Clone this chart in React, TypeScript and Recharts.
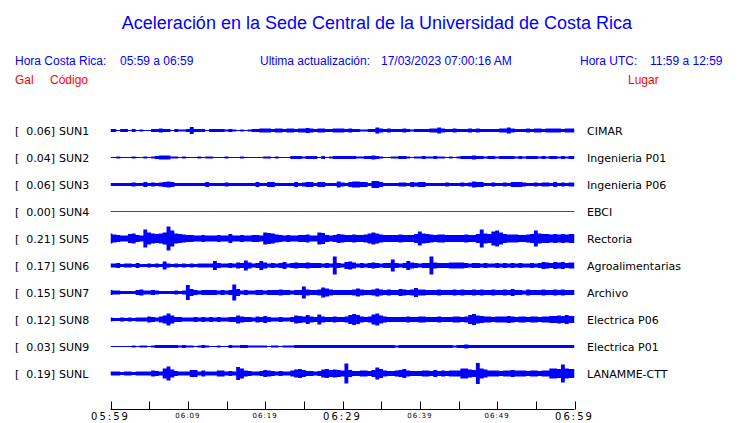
import React from 'react';
import { ComposedChart, Area, XAxis, YAxis } from 'recharts';

// ---- Station metadata ----
const stationCodes = ['SUN1', 'SUN2', 'SUN3', 'SUN4', 'SUN5', 'SUN6', 'SUN7', 'SUN8', 'SUN9', 'SUNL'];
const peakGal = ['0.06', '0.04', '0.06', '0.00', '0.21', '0.17', '0.15', '0.12', '0.03', '0.19'];
const places = ['CIMAR', 'Ingenieria P01', 'Ingenieria P06', 'EBCI', 'Rectoria', 'Agroalimentarias', 'Archivo', 'Electrica P06', 'Electrica P01', 'LANAMME-CTT'];

// ---- Trace envelopes (half amplitude, display units), one value per 30 s from 05:59 ----
const sun1 = [
  1.5, 1.5, 0.5, 1.5, 1.5, 0.5, 1.5, 0.5, 1, 0.5,
  0.5, 1.5, 1.5, 2, 1.5, 1.5, 0.5, 1.5, 1, 1,
  1.5, 3.5, 1.5, 1.5, 1.5, 0.5, 1.5, 1.5, 1.5, 1.5,
  1, 1.5, 1, 0.5, 1, 0.5, 1, 1.5, 1.5, 2,
  2, 2, 1.5, 2, 2, 1.5, 2, 2, 1.5, 2,
  2, 2.5, 2, 1.5, 2, 2, 1.5, 1.5, 2, 2,
  2, 1.5, 2, 1.5, 1.5, 1, 1, 1.5, 1.5, 3,
  2, 1.5, 2, 1.5, 1.5, 1.5, 2, 1.5, 1, 1.5,
  1.5, 1.5, 1.5, 2, 2, 3, 2, 1.5, 1.5, 2,
  1.5, 1.5, 1.5, 2, 1.5, 2, 1.5, 1.5, 1.5, 1.5,
  1.5, 2, 2, 3, 2, 1.5, 1.5, 1.5, 2, 1.5,
  2, 2, 1.5, 2, 2, 2, 2, 1.5, 2, 2,
];
const sun2 = [
  0.5, 0.5, 1, 0.5, 0.5, 0.5, 1, 0.5, 0.5, 1,
  0.5, 1, 1.5, 2, 2, 2, 1, 1, 0.5, 1,
  0.5, 0.5, 0.5, 1, 0.5, 1, 1, 0.5, 0.5, 0.5,
  1, 0.5, 0.5, 0.5, 1, 0.5, 0.5, 0.5, 0.5, 0.5,
  1, 1, 0.5, 1, 0.5, 0.5, 0.5, 1.5, 1.5, 1.5,
  1, 1.5, 1.5, 1.5, 0.5, 1.5, 0.5, 1, 1.5, 1.5,
  1.5, 1.5, 1.5, 1.5, 1, 1, 1.5, 1.5, 2, 1.5,
  1, 0.5, 0.5, 1, 1, 1.5, 1.5, 1, 0.5, 1,
  1, 1.5, 1, 1, 1.5, 1, 1, 0.5, 1, 0.5,
  1, 1.5, 1.5, 1.5, 2, 1.5, 1.5, 1, 1.5, 1.5,
  1, 1.5, 1.5, 1.5, 1.5, 1, 1.5, 1, 1.5, 1.5,
  1.5, 1, 1.5, 1, 1.5, 1.5, 1, 1.5, 1, 1.5,
];
const sun3 = [
  1.5, 1.5, 1.5, 1.5, 1.5, 1.5, 2, 1.5, 1.5, 2.5,
  1.5, 2, 1.5, 2, 2.5, 3, 2.5, 1.5, 1.5, 1.5,
  1.5, 1.5, 1.5, 1.5, 1.5, 2.5, 1.5, 1.5, 1.5, 1.5,
  2, 1.5, 1.5, 1.5, 1.5, 1.5, 1.5, 1.5, 2.5, 1.5,
  1.5, 2.5, 2.5, 1.5, 1.5, 1.5, 1.5, 1.5, 2.5, 1.5,
  2, 2.5, 2.5, 1.5, 2.5, 2.5, 1.5, 1.5, 1.5, 3,
  2, 1.5, 2.5, 3, 3, 2.5, 2.5, 1.5, 3.5, 3.5,
  2.5, 1.5, 1.5, 1.5, 1.5, 2, 2, 1.5, 2.5, 2,
  2.5, 2.5, 1.5, 1.5, 1.5, 1.5, 1.5, 2, 1.5, 1.5,
  1.5, 2, 1.5, 2, 3, 2.5, 2.5, 1.5, 1.5, 2,
  1.5, 1.5, 2, 1.5, 2.5, 2.5, 2.5, 2, 1.5, 1.5,
  2, 1.5, 2, 2, 1.5, 2.5, 1.5, 2, 1.5, 2,
];
const sun4 = [
  0, 0, 0, 0, 0, 0, 0, 0, 0, 0,
  0, 0, 0, 0, 0, 0, 0, 0, 0, 0,
  0, 0, 0, 0, 0, 0, 0, 0, 0, 0,
  0, 0, 0, 0, 0, 0, 0, 0, 0, 0,
  0, 0, 0, 0, 0, 0, 0, 0, 0, 0,
  0, 0, 0, 0, 0, 0, 0, 0, 0, 0,
  0, 0, 0, 0, 0, 0, 0, 0, 0, 0,
  0, 0, 0, 0, 0, 0, 0, 0, 0, 0,
  0, 0, 0, 0, 0, 0, 0, 0, 0, 0,
  0, 0, 0, 0, 0, 0, 0, 0, 0, 0,
  0, 0, 0, 0, 0, 0, 0, 0, 0, 0,
  0, 0, 0, 0, 0, 0, 0, 0, 0, 0,
];
const sun5 = [
  5, 4, 3.5, 3, 3, 4.5, 5, 3.5, 3, 9,
  6, 5, 4.5, 5, 6, 12, 8, 5, 4.5, 4,
  3.5, 3.5, 3, 3, 3.5, 3, 3, 3, 3.5, 3,
  3, 4.5, 3, 3, 3.5, 3, 3, 3.5, 3.5, 3,
  6, 5.5, 5, 4, 3.5, 3, 3.5, 3, 3, 3.5,
  3.5, 4, 3, 3, 6, 5.5, 3.5, 3, 3.5, 4.5,
  4, 3.5, 3.5, 4, 3.5, 3.5, 4, 5, 6, 5,
  4, 3.5, 3.5, 3.5, 3.5, 4, 3.5, 3.5, 3.5, 4.5,
  7, 5, 4.5, 4, 3.5, 4, 4, 3.5, 3.5, 3.5,
  3.5, 3.5, 4, 3.5, 3.5, 4.5, 9, 5, 4.5, 7,
  8, 6, 4.5, 4, 4, 4, 3.5, 3.5, 4, 4.5,
  8, 5, 4.5, 4.5, 4, 4.5, 4, 4.5, 4, 4.5,
];
const sun6 = [
  2, 2, 2.5, 1.5, 2, 2, 1.5, 2.5, 1.5, 1.5,
  2, 1.5, 2, 1.5, 4, 2, 1.5, 2, 1.5, 2,
  1.5, 2, 1.5, 2, 2, 2, 2, 4.5, 2.5, 2,
  2, 2.5, 2, 3, 2.5, 5, 3, 2, 2.5, 4.5,
  3, 2, 2.5, 2, 2.5, 3.5, 2, 2.5, 3, 2.5,
  2.5, 3, 2.5, 2.5, 2.5, 2, 2.5, 2, 9, 2.5,
  2, 3.5, 4, 3, 2, 2.5, 2, 2.5, 3, 2.5,
  2, 2.5, 2.5, 6, 2.5, 2, 2.5, 4.5, 3, 2.5,
  2, 2.5, 2.5, 9, 3, 2.5, 2.5, 2.5, 3, 3,
  3, 3, 2.5, 2, 2.5, 2.5, 2, 2.5, 2, 2,
  2.5, 2, 2.5, 2, 2.5, 2, 2.5, 2, 2, 2.5,
  2, 2.5, 3.5, 3, 2.5, 3.5, 3, 3.5, 2.5, 3,
];
const sun7 = [
  2.5, 2, 2, 1.5, 1.5, 1.5, 1.5, 2.5, 3, 2,
  2, 2.5, 2, 1.5, 1.5, 1.5, 1.5, 2, 1.5, 2,
  7.5, 3.5, 2.5, 2, 2.5, 2.5, 2.5, 2.5, 2, 2.5,
  2, 2.5, 8, 3.5, 2, 2.5, 2, 2, 2.5, 2.5,
  2, 2.5, 2.5, 2.5, 3, 2.5, 2.5, 2, 2.5, 2.5,
  6, 3, 2.5, 2.5, 3, 5, 4, 3, 2.5, 2.5,
  2.5, 2.5, 2.5, 3, 4, 3, 2.5, 2.5, 3, 4,
  3, 2.5, 3, 2.5, 2.5, 3.5, 3, 2.5, 3, 4.5,
  3, 3, 2.5, 2.5, 2.5, 3, 2.5, 2.5, 2.5, 3,
  2.5, 3, 2.5, 2.5, 3, 2.5, 3, 2.5, 2.5, 3,
  2.5, 2.5, 3, 2.5, 3.5, 2.5, 2.5, 2, 3, 2.5,
  2.5, 2.5, 3, 2.5, 2.5, 3, 2.5, 3, 2.5, 2.5,
];
const sun8 = [
  2, 1.5, 1.5, 2, 1.5, 2, 1.5, 2, 2, 2,
  3, 2.5, 2, 3, 4, 6, 4, 2.5, 2.5, 2,
  2, 2, 2.5, 2, 2.5, 2, 2.5, 2, 2.5, 2,
  2, 2.5, 2.5, 4, 3, 2.5, 2.5, 2, 3, 2.5,
  3.5, 2.5, 2, 2, 2.5, 2, 2, 2.5, 4, 3.5,
  3, 4.5, 3, 2.5, 5, 3, 2.5, 2.5, 3, 2.5,
  2.5, 3, 4.5, 5.5, 4.5, 3, 2.5, 3, 5, 6,
  4, 3, 2.5, 2.5, 2.5, 2.5, 2.5, 3, 2.5, 2.5,
  3, 3, 2.5, 2.5, 2.5, 3, 2.5, 2.5, 2.5, 3,
  3, 2.5, 3, 4.5, 5.5, 4, 3.5, 3, 3, 2.5,
  3, 3, 3, 3.5, 3, 2.5, 3, 3, 2.5, 3,
  3, 2.5, 3, 3, 3.5, 3.5, 4, 3.5, 4.5, 3.5,
];
const sun9 = [
  0.5, 0.5, 0.5, 0.5, 0.5, 0.5, 1, 0.5, 1, 1,
  0.5, 1, 1.5, 1.5, 1.5, 1.5, 1.5, 1.5, 1, 1.5,
  1, 1, 0.5, 1, 1.5, 1, 0.5, 0.5, 1, 0.5,
  0.5, 1.5, 1, 1, 1.5, 1.5, 1, 1, 1, 1,
  1, 0.5, 1, 1, 0.5, 1, 1, 1, 1.5, 1.5,
  1.5, 1.5, 1.5, 1.5, 1.5, 1.5, 1.5, 1.5, 1.5, 1.5,
  1.5, 1.5, 1.5, 1.5, 1.5, 1.5, 1.5, 1.5, 1.5, 1.5,
  1.5, 1.5, 1.5, 1.5, 1, 1.5, 1.5, 1.5, 1.5, 1.5,
  1.5, 1.5, 1.5, 1.5, 1.5, 1.5, 1.5, 1.5, 1.5, 1,
  1.5, 1.5, 2, 1.5, 1.5, 1.5, 1.5, 1.5, 1.5, 1.5,
  1.5, 1.5, 1.5, 1.5, 1.5, 1.5, 1.5, 1.5, 1.5, 1.5,
  1.5, 1.5, 1.5, 1.5, 1.5, 1.5, 1.5, 1.5, 1.5, 1.5,
];
const sunL = [
  2, 2, 2, 1.5, 2, 2, 1.5, 2, 2, 2,
  2, 3, 2.5, 2, 5, 7, 4, 2.5, 2, 2,
  2, 3.5, 3.5, 2, 3, 2, 2, 2, 3, 3,
  2, 2.5, 2, 6.5, 5, 3, 2.5, 2, 2, 2.5,
  3.5, 3, 2.5, 2, 2.5, 2, 2, 3, 4, 4.5,
  3.5, 2.5, 2.5, 2, 2.5, 4, 4.5, 3.5, 4, 3.5,
  3, 10, 3.5, 2.5, 2.5, 3, 3, 2.5, 3.5, 6,
  4.5, 3, 2.5, 2.5, 3, 3.5, 4.5, 3, 2.5, 2.5,
  2.5, 3, 3, 2.5, 3.5, 2.5, 3, 2.5, 3, 3,
  3, 5, 5, 4, 3.5, 10.5, 5, 4, 3, 3,
  3, 2.5, 3, 3, 3.5, 3, 3, 3, 2.5, 3,
  3, 2.5, 3, 3, 5, 5, 4.5, 9, 5, 4.5,
];
const traces = [sun1, sun2, sun3, sun4, sun5, sun6, sun7, sun8, sun9, sunL];

// ---- Time axis ----
const minuteTicks = [0, 5, 10, 15, 20, 25, 30, 35, 40, 45, 50, 55, 60];
const tickLabels: Record<number, string> = { 0: '05:59', 10: '06:09', 20: '06:19', 30: '06:29', 40: '06:39', 50: '06:49', 60: '06:59' };
const majorTicks = [0, 30, 60];
const SAMPLE_MINUTES = 0.5;

// ---- Layout constants (pixels) ----
const W = 740;
const H = 423;
const ROW_GAP = 27;
const PLOT_TOP = 103.5;
const PLOT_BOTTOM = 409.5;
const PLOT_LEFT = 110.5;
const PLOT_RIGHT = 574.5;
const Y_SPAN = PLOT_BOTTOM - PLOT_TOP;

const BLUE = '#0000ff';
const RED = '#ff0000';

const rows = Array.from({ length: sun1.length + 1 }, (_, i) => {
  const r: Record<string, any> = { t: i * SAMPLE_MINUTES };
  traces.forEach((tr, k) => {
    const a = tr[Math.min(i, tr.length - 1)];
    const c = ROW_GAP * (k + 1);
    r['s' + k] = [c - a, c + a];
  });
  return r;
});

const TimeTick = (props: any) => {
  const { x, y, payload } = props;
  const v = payload.value as number;
  const xx = Math.round(x) + 0.5;
  const label = tickLabels[v];
  const major = majorTicks.includes(v);
  return (
    <g>
      <line x1={xx} x2={xx} y1={y - 8} y2={y} stroke="#000" strokeWidth={1} />
      {label && (
        <text
          x={x}
          y={major ? y + 10 : y + 8}
          textAnchor="middle"
          fontFamily="DejaVu Sans"
          fontSize={major ? 10 : 7}
          letterSpacing={major ? 2 : 1}
          fill="#000"
        >
          {label}
        </text>
      )}
    </g>
  );
};

const LABEL_FONT = 'DejaVu Sans';
const HEAD_FONT = 'Liberation Sans, Arial, sans-serif';

export default function App() {
  return (
    <div style={{ position: 'absolute', left: 0, top: 0, width: W, height: H, background: '#fff', overflow: 'hidden' }}>
      <ComposedChart
        width={W}
        height={H}
        data={rows}
        margin={{ top: PLOT_TOP, right: W - PLOT_RIGHT, bottom: 0, left: PLOT_LEFT }}
      >
        <XAxis
          dataKey="t"
          type="number"
          domain={[0, 60]}
          ticks={minuteTicks}
          interval={0}
          height={H - PLOT_BOTTOM}
          axisLine={{ stroke: '#000', strokeWidth: 1 }}
          tickLine={false}
          tickSize={0}
          tickMargin={0}
          tick={<TimeTick />}
          allowDataOverflow
        />
        <YAxis type="number" domain={[0, Y_SPAN]} reversed hide allowDataOverflow />
        {traces.map((tr, k) => {
          const flat = tr.every((v) => v === 0);
          return (
            <Area
              key={k}
              type="step"
              dataKey={'s' + k}
              stroke={flat ? RED : 'none'}
              strokeWidth={1}
              fill={BLUE}
              fillOpacity={flat ? 0 : 1}
              isAnimationActive={false}
              dot={false}
              activeDot={false}
            />
          );
        })}
      </ComposedChart>
      <svg
        width={W}
        height={H}
        style={{ position: 'absolute', left: 0, top: 0, pointerEvents: 'none' }}
      >
        <text x={377} y={29} textAnchor="middle" fontFamily={HEAD_FONT} fontSize={18} fill={BLUE}>
          Aceleración en la Sede Central de la Universidad de Costa Rica
        </text>
        <g fontFamily={HEAD_FONT} fontSize={12} fill={BLUE}>
          <text x={15} y={65}>Hora Costa Rica:</text>
          <text x={120} y={65}>05:59 a 06:59</text>
          <text x={260} y={65}>Ultima actualización:</text>
          <text x={381} y={65}>17/03/2023 07:00:16 AM</text>
          <text x={580} y={65}>Hora UTC:</text>
          <text x={650} y={65}>11:59 a 12:59</text>
        </g>
        <g fontFamily={HEAD_FONT} fontSize={12} fill={RED}>
          <text x={15} y={84}>Gal</text>
          <text x={50} y={84}>Código</text>
          <text x={628} y={84}>Lugar</text>
        </g>
        <g fontFamily={LABEL_FONT} fontSize={11} fill="#000">
          {stationCodes.map((code, k) => {
            const by = PLOT_TOP + ROW_GAP * (k + 1) + 4;
            return (
              <g key={code}>
                <text x={15} y={by}>[</text>
                <text x={55} y={by} textAnchor="end">{peakGal[k] + ']'}</text>
                <text x={59} y={by}>{code}</text>
                <text x={587} y={by}>{places[k]}</text>
              </g>
            );
          })}
        </g>
      </svg>
    </div>
  );
}
